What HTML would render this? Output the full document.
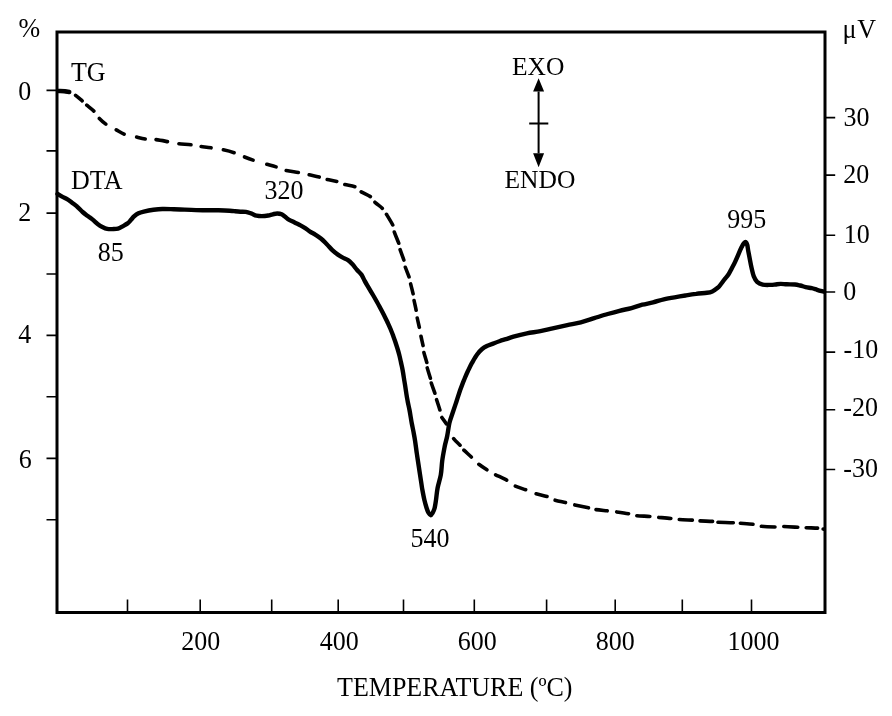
<!DOCTYPE html><html><head><meta charset="utf-8"><title>TG-DTA</title><style>html,body{margin:0;padding:0;background:#fff;width:892px;height:716px;overflow:hidden}svg{display:block;filter:blur(0.45px)}</style></head><body><svg width="892" height="716" viewBox="0 0 892 716">
<rect width="892" height="716" fill="#fff"/>
<path d="M57.0,90.7 C59.1,91.0 66.9,91.6 69.9,92.3 C72.9,93.0 72.6,93.3 74.8,94.8 C77.0,96.3 81.0,99.9 82.9,101.5 C84.8,103.1 84.0,102.9 86.0,104.6 C88.0,106.3 92.5,109.6 94.6,111.8 C96.7,114.0 96.6,115.4 98.6,117.6 C100.6,119.8 103.9,122.8 106.7,124.8 C109.5,126.8 112.1,127.7 115.2,129.3 C118.3,130.9 121.7,133.3 125.1,134.6 C128.5,135.8 131.9,136.1 135.4,136.8 C138.9,137.6 142.9,138.7 146.2,139.1 C149.4,139.5 151.2,139.1 154.9,139.5 C158.6,139.9 164.6,141.1 168.4,141.8 C172.2,142.5 173.9,143.1 177.8,143.6 C181.7,144.1 188.2,144.4 191.9,144.9 C195.6,145.4 196.6,145.8 200.0,146.3 C203.4,146.8 208.4,147.4 212.1,148.0 C215.8,148.6 218.4,148.8 222.2,149.6 C226.0,150.4 231.5,151.8 235.0,153.0 C238.5,154.2 240.2,155.2 243.4,156.5 C246.6,157.8 250.4,159.3 254.1,160.5 C257.8,161.7 261.8,162.8 265.6,163.9 C269.4,165.0 273.8,166.1 277.0,167.2 C280.2,168.3 281.4,169.4 285.1,170.3 C288.8,171.2 295.4,171.9 299.2,172.6 C303.0,173.3 304.5,173.8 308.0,174.6 C311.5,175.4 317.1,176.5 320.1,177.3 C323.1,178.1 323.2,178.6 326.1,179.3 C329.0,180.0 334.7,180.8 337.6,181.6 C340.5,182.4 340.6,183.4 343.6,184.3 C346.6,185.2 352.9,185.8 355.7,187.0 C358.4,188.2 357.5,189.5 360.1,191.2 C362.7,192.9 368.8,195.4 371.1,197.1 C373.4,198.8 372.1,199.6 374.1,201.5 C376.1,203.4 380.9,206.9 382.9,208.8 C384.8,210.8 384.1,210.4 385.8,213.2 C387.5,216.0 391.8,222.8 393.1,225.7 C394.5,228.6 392.9,227.8 393.9,230.8 C394.9,233.9 398.0,241.1 399.0,244.0 C400.0,246.9 398.8,245.6 399.7,248.4 C400.6,251.2 403.2,257.9 404.1,260.8 C405.0,263.7 404.0,263.2 404.9,266.0 C405.8,268.8 408.4,274.9 409.3,277.7 C410.2,280.5 409.6,279.8 410.3,282.6 C411.0,285.4 412.7,291.8 413.3,294.6 C413.9,297.4 413.3,296.4 413.8,299.2 C414.3,301.9 415.8,308.2 416.3,311.1 C416.8,314.0 416.5,314.0 417.0,316.8 C417.5,319.6 418.9,325.1 419.5,328.1 C420.1,331.1 420.1,332.0 420.7,335.0 C421.3,338.0 422.7,343.6 423.2,346.3 C423.7,349.0 423.0,348.5 423.6,351.3 C424.2,354.1 426.4,360.8 427.0,363.3 C427.6,365.9 426.3,364.0 426.9,366.6 C427.5,369.2 429.9,376.4 430.6,378.9 C431.3,381.4 430.1,379.2 430.9,381.7 C431.6,384.2 434.2,391.1 435.1,393.9 C436.0,396.7 435.4,395.6 436.2,398.4 C437.0,401.2 439.3,407.7 440.1,410.7 C440.9,413.7 440.1,414.0 441.2,416.3 C442.3,418.6 444.9,421.2 446.8,424.7 C448.7,428.2 450.4,433.9 452.7,437.4 C455.0,440.9 458.8,443.7 460.5,445.7 C462.2,447.7 461.1,447.2 463.0,449.2 C464.9,451.2 469.4,455.1 471.8,457.5 C474.2,459.9 475.1,461.3 477.7,463.4 C480.3,465.5 484.7,468.4 487.5,470.2 C490.3,472.0 491.0,472.4 494.3,474.1 C497.6,475.8 504.0,478.6 507.3,480.5 C510.6,482.4 510.8,483.9 514.0,485.5 C517.2,487.1 522.8,488.7 526.3,490.0 C529.8,491.3 531.2,492.3 534.8,493.4 C538.3,494.5 544.4,495.6 547.6,496.7 C550.8,497.8 550.7,498.8 553.8,499.8 C556.9,500.8 562.8,501.9 566.1,502.7 C569.4,503.5 569.6,503.7 573.4,504.6 C577.2,505.5 585.6,507.2 589.1,508.0 C592.6,508.8 591.4,508.9 594.5,509.4 C597.6,509.9 604.4,510.5 607.9,510.9 C611.4,511.3 611.7,511.2 615.2,511.7 C618.8,512.2 625.8,513.2 629.2,513.9 C632.6,514.5 631.9,515.2 635.4,515.6 C638.9,516.0 646.9,516.2 650.5,516.5 C654.1,516.8 653.8,517.0 657.3,517.3 C660.8,517.6 668.1,518.1 671.5,518.5 C674.9,518.9 674.2,519.1 677.8,519.4 C681.4,519.7 689.5,520.0 693.0,520.2 C696.5,520.4 695.2,520.6 698.6,520.8 C702.0,521.0 710.2,521.2 713.2,521.4 C716.2,521.6 713.0,522.0 716.5,522.2 C720.0,522.4 730.2,522.6 733.9,522.8 C737.6,522.9 735.6,522.9 738.9,523.1 C742.2,523.4 750.1,523.8 753.6,524.3 C757.1,524.8 756.2,525.6 759.9,526.1 C763.6,526.6 771.9,526.9 775.6,527.0 C779.3,527.1 778.5,526.5 782.3,526.5 C786.1,526.5 794.7,527.1 798.4,527.3 C802.1,527.5 801.4,527.5 804.7,527.6 C808.0,527.8 815.4,528.0 818.2,528.2 C821.0,528.4 820.3,528.6 821.3,528.8 C822.3,529.0 823.5,529.1 824.0,529.2" fill="none" stroke="#000" stroke-width="3.6" stroke-linecap="round" stroke-linejoin="round" stroke-dasharray="10.60 7.98 8.12 6.79 8.82 9.47 8.45 12.03 8.84 12.95 8.65 11.12 11.30 11.97 11.76 10.62 9.82 12.63 10.85 11.51 9.02 14.39 9.47 11.09 11.89 11.43 10.00 8.73 9.33 9.00 10.01 8.59 10.09 7.82 9.04 7.71 12.08 7.65 11.75 6.90 10.76 7.69 10.10 7.41 9.97 7.04 9.76 8.15 9.17 9.40 9.17 7.44 10.07 5.84 10.45 5.32 10.50 7.04 10.50 8.15 7.71 16.42 9.02 6.72 9.70 10.75 9.53 10.24 12.09 10.79 10.70 11.56 10.82 9.36 10.24 9.94 13.66 7.99 11.08 9.74 11.77 8.85 12.73 9.25 11.85 8.77 12.82 8.04 12.21 5.94 15.01 7.41 12.35 8.99 13.33 9.13 13.72 8.71 11.11 5.58 0.33 1000.00" stroke-dashoffset="-1.20"/>
<path d="M57.5,193.8 C58.3,194.3 60.5,195.7 62.1,196.6 C63.7,197.5 65.4,198.1 67.1,199.1 C68.8,200.1 70.4,201.4 72.1,202.7 C73.8,204.0 75.5,205.1 77.2,206.7 C79.0,208.2 80.8,210.4 82.6,212.0 C84.4,213.6 86.1,214.8 87.8,216.1 C89.5,217.4 91.1,218.3 92.7,219.6 C94.3,220.9 96.0,222.7 97.6,223.9 C99.2,225.1 100.8,226.2 102.4,227.0 C104.0,227.8 105.7,228.6 107.3,228.9 C108.9,229.2 110.4,229.2 112.2,229.1 C114.0,229.0 116.3,229.1 118.0,228.6 C119.7,228.1 121.0,227.2 122.6,226.3 C124.2,225.4 126.2,224.4 127.6,223.4 C129.0,222.4 129.7,221.3 130.8,220.1 C131.9,218.9 132.9,217.4 134.2,216.3 C135.5,215.2 136.9,214.1 138.5,213.3 C140.1,212.5 141.3,212.2 143.8,211.6 C146.3,211.0 150.4,210.2 153.5,209.8 C156.6,209.4 159.1,209.1 162.4,209.0 C165.8,208.9 169.9,209.1 173.6,209.2 C177.3,209.3 181.1,209.4 184.8,209.6 C188.5,209.8 192.2,210.0 196.0,210.1 C199.8,210.2 203.6,210.3 207.3,210.3 C211.1,210.3 214.8,210.1 218.5,210.2 C222.2,210.3 226.9,210.5 229.7,210.7 C232.4,210.9 233.2,211.0 235.0,211.2 C236.8,211.4 238.6,211.6 240.4,211.7 C242.2,211.8 244.0,211.6 245.8,211.9 C247.6,212.2 249.3,212.8 251.1,213.4 C252.9,214.0 254.7,215.2 256.5,215.6 C258.3,216.0 259.9,216.1 261.9,216.1 C263.8,216.1 266.4,215.8 268.2,215.5 C270.0,215.2 271.2,214.6 272.7,214.3 C274.2,214.0 275.7,213.5 277.2,213.5 C278.7,213.5 280.3,213.6 281.6,214.2 C282.9,214.8 284.0,215.9 285.2,216.8 C286.4,217.7 287.3,218.7 288.8,219.6 C290.3,220.5 292.2,221.3 294.2,222.3 C296.1,223.3 298.6,224.4 300.5,225.4 C302.4,226.4 304.3,227.6 305.9,228.6 C307.5,229.6 308.4,230.6 310.0,231.6 C311.6,232.6 313.7,233.6 315.6,234.8 C317.5,236.0 319.3,237.1 321.2,238.7 C323.1,240.3 324.9,242.3 326.8,244.2 C328.7,246.1 330.5,248.4 332.3,250.1 C334.1,251.8 336.2,253.4 337.9,254.6 C339.6,255.8 340.7,256.5 342.4,257.4 C344.1,258.3 346.3,259.0 348.0,260.1 C349.7,261.2 351.0,262.7 352.5,264.3 C354.0,265.9 355.4,268.1 356.9,269.8 C358.4,271.5 360.1,272.8 361.4,274.6 C362.7,276.5 363.5,278.7 364.7,280.9 C365.9,283.1 367.2,285.2 368.6,287.6 C370.0,290.0 371.6,292.6 373.0,295.0 C374.4,297.4 375.7,299.7 377.0,302.0 C378.3,304.3 379.6,306.8 380.8,309.0 C382.0,311.2 383.1,313.3 384.2,315.5 C385.3,317.7 386.4,319.8 387.4,322.0 C388.4,324.2 389.4,326.3 390.3,328.5 C391.2,330.7 392.1,332.8 392.9,335.0 C393.7,337.2 394.5,339.3 395.2,341.5 C395.9,343.7 396.6,345.8 397.3,348.0 C398.0,350.2 398.7,352.7 399.3,355.0 C399.9,357.3 400.3,359.5 400.9,362.0 C401.4,364.5 402.1,367.3 402.6,370.0 C403.1,372.7 403.5,375.3 403.9,378.0 C404.3,380.7 404.8,383.3 405.2,386.0 C405.6,388.7 406.0,391.3 406.4,394.0 C406.8,396.7 407.3,399.3 407.8,402.0 C408.3,404.7 408.8,406.4 409.5,410.0 C410.2,413.6 411.1,419.9 411.8,423.5 C412.5,427.1 413.0,429.1 413.5,431.9 C414.0,434.7 414.4,436.6 415.0,440.3 C415.6,444.0 416.2,449.4 416.9,454.0 C417.6,458.6 418.3,463.4 419.0,467.9 C419.7,472.4 420.4,477.3 421.0,481.0 C421.6,484.7 421.8,486.8 422.4,490.0 C423.0,493.2 423.7,497.0 424.4,500.0 C425.1,503.0 425.9,505.8 426.6,508.0 C427.3,510.2 427.9,511.8 428.6,513.0 C429.3,514.2 429.9,515.2 430.6,515.2 C431.3,515.2 432.0,514.1 432.6,513.0 C433.2,511.9 433.9,510.7 434.5,508.5 C435.1,506.3 435.5,503.4 436.0,500.0 C436.5,496.6 436.8,492.2 437.6,488.0 C438.4,483.8 440.0,479.4 440.8,474.9 C441.6,470.4 441.6,465.6 442.2,461.0 C442.8,456.4 443.8,451.2 444.6,447.0 C445.4,442.8 446.4,440.0 447.2,436.0 C448.0,432.0 448.5,426.8 449.4,423.0 C450.3,419.2 451.4,416.6 452.6,413.0 C453.8,409.4 455.1,405.5 456.4,401.7 C457.6,397.9 458.9,393.9 460.1,390.3 C461.4,386.7 462.6,383.4 463.9,380.3 C465.2,377.2 466.3,374.4 467.7,371.5 C469.1,368.6 470.5,365.5 472.1,362.7 C473.7,359.9 475.4,356.8 477.1,354.5 C478.8,352.2 480.3,350.5 482.1,349.0 C483.9,347.5 485.8,346.6 487.8,345.6 C489.8,344.6 492.1,344.0 494.1,343.2 C496.1,342.4 498.0,341.7 500.0,341.0 C502.0,340.3 503.8,339.9 506.0,339.2 C508.2,338.5 510.0,337.7 513.5,336.7 C517.0,335.7 522.4,334.3 526.9,333.4 C531.4,332.5 535.9,332.1 540.4,331.2 C544.9,330.3 549.3,329.1 553.8,328.1 C558.3,327.1 562.8,326.2 567.3,325.2 C571.8,324.2 576.3,323.5 580.8,322.3 C585.3,321.1 589.7,319.6 594.2,318.2 C598.7,316.8 603.5,315.2 607.7,314.0 C611.9,312.8 615.5,311.8 619.5,310.8 C623.5,309.8 627.7,309.1 631.5,308.1 C635.3,307.1 638.7,305.6 642.3,304.7 C645.9,303.8 649.5,303.3 653.1,302.4 C656.7,301.5 660.2,300.1 663.8,299.3 C667.4,298.5 671.0,297.9 674.6,297.3 C678.2,296.7 681.8,296.1 685.4,295.5 C689.0,294.9 692.5,294.3 696.1,293.9 C699.7,293.4 704.2,293.2 706.9,292.8 C709.6,292.4 710.5,292.2 712.3,291.4 C714.1,290.6 716.2,289.0 717.7,287.8 C719.2,286.6 719.9,285.4 721.0,284.0 C722.1,282.6 723.0,281.3 724.2,279.7 C725.4,278.1 727.1,276.5 728.4,274.6 C729.6,272.7 730.6,270.6 731.7,268.5 C732.8,266.4 734.0,264.2 735.1,261.8 C736.2,259.4 737.4,256.7 738.4,254.3 C739.4,251.9 740.5,249.4 741.4,247.6 C742.3,245.8 743.1,244.1 743.9,243.2 C744.7,242.3 745.4,241.8 746.0,242.1 C746.6,242.4 746.9,243.5 747.3,245.1 C747.7,246.7 747.9,249.3 748.4,251.8 C748.9,254.3 749.5,257.3 750.0,260.1 C750.5,262.9 751.1,265.8 751.7,268.5 C752.3,271.2 752.8,273.9 753.7,276.1 C754.6,278.3 755.6,280.5 757.1,281.9 C758.6,283.3 760.5,284.1 762.7,284.6 C764.9,285.1 768.2,284.9 770.3,284.9 C772.4,284.9 773.6,284.7 775.4,284.5 C777.1,284.3 778.9,283.9 780.8,283.9 C782.7,283.9 784.4,284.2 786.8,284.3 C789.1,284.4 792.6,284.3 794.9,284.5 C797.1,284.7 798.5,285.1 800.3,285.5 C802.1,285.9 803.7,286.7 805.6,287.1 C807.5,287.6 809.8,287.8 811.7,288.2 C813.6,288.6 815.1,289.2 817.1,289.8 C819.1,290.4 822.9,291.4 824.0,291.7" fill="none" stroke="#000" stroke-width="4.4" stroke-linecap="round" stroke-linejoin="round"/>
<path d="M58.5,91.0 C62,90.9 66,91.2 69.3,92.0" fill="none" stroke="#000" stroke-width="4.4" stroke-linecap="round"/>
<rect x="57" y="32" width="768" height="580.5" fill="none" stroke="#000" stroke-width="3"/>
<path d="M46.5,90.4H57 M46.5,150.9H57 M46.5,213.1H57 M46.5,274.0H57 M46.5,335.4H57 M46.5,396.8H57 M46.5,458.4H57 M46.5,519.7H57 M825,117.6H835.2 M825,175.1H835.2 M825,235.3H835.2 M825,292.0H835.2 M825,352.1H835.2 M825,409.8H835.2 M825,469.5H835.2 M127.5,612.5V599.5 M200.2,612.5V599.5 M271.7,612.5V599.5 M338.2,612.5V599.5 M403.5,612.5V599.5 M474.3,612.5V599.5 M546.6,612.5V599.5 M615.2,612.5V599.5 M682.3,612.5V599.5 M751.5,612.5V599.5" stroke="#000" stroke-width="1.6" fill="none"/>
<path d="M538.6,91.5V153.3M529.2,123.5H548.3" stroke="#000" stroke-width="2" fill="none"/>
<path d="M538.6,78.2L533.1,91.5L544.1,91.5Z M538.6,167.3L533.1,153.3L544.1,153.3Z" fill="#000"/>
<g font-family="'Liberation Serif', 'DejaVu Serif', serif" font-size="26" fill="#000" stroke="#000" stroke-width="0.0">
<text transform="translate(18.55,37.30) scale(1,1.05)">%</text>
<text transform="translate(842.40,38.30) scale(1,1.05)">μ<tspan dx="1">V</tspan></text>
<text transform="translate(18.30,99.55) scale(1,1.05)">0</text>
<text transform="translate(18.25,221.00) scale(1,1.05)">2</text>
<text transform="translate(18.35,343.35) scale(1,1.05)">4</text>
<text transform="translate(18.75,467.70) scale(1,1.05)">6</text>
<text transform="translate(843.45,126.40) scale(1,1.05)">30</text>
<text transform="translate(843.30,183.10) scale(1,1.05)">20</text>
<text transform="translate(843.85,243.30) scale(1,1.05)">10</text>
<text transform="translate(843.15,300.45) scale(1,1.05)">0</text>
<text transform="translate(843.60,358.30) scale(1,1.05)">-10</text>
<text transform="translate(843.35,416.30) scale(1,1.05)">-20</text>
<text transform="translate(843.35,476.60) scale(1,1.05)">-30</text>
<text transform="translate(181.25,650.30) scale(1,1.05)">200</text>
<text transform="translate(319.75,650.05) scale(1,1.05)">400</text>
<text transform="translate(457.75,650.15) scale(1,1.05)">600</text>
<text transform="translate(595.75,650.15) scale(1,1.05)">800</text>
<text transform="translate(727.55,650.20) scale(1,1.05)">1000</text>
<text transform="translate(337.05,695.85) scale(1,1.05)">TEMPERATURE (ºC)</text>
<text transform="translate(70.90,81.40) scale(1,1.05)">TG</text>
<text transform="translate(71.10,188.60) scale(1,1.05)">DTA</text>
<text transform="translate(97.85,260.70) scale(1,1.05)">85</text>
<text transform="translate(264.50,199.45) scale(1,1.05)">320</text>
<text transform="translate(410.45,546.75) scale(1,1.05)">540</text>
<text transform="translate(727.25,228.20) scale(1,1.05)">995</text>
<text transform="translate(511.95,75.00) scale(1,0.99)" font-size="25.5">EXO</text>
<text transform="translate(504.50,187.70) scale(1,0.99)" font-size="25.5">ENDO</text>
</g></svg></body></html>
